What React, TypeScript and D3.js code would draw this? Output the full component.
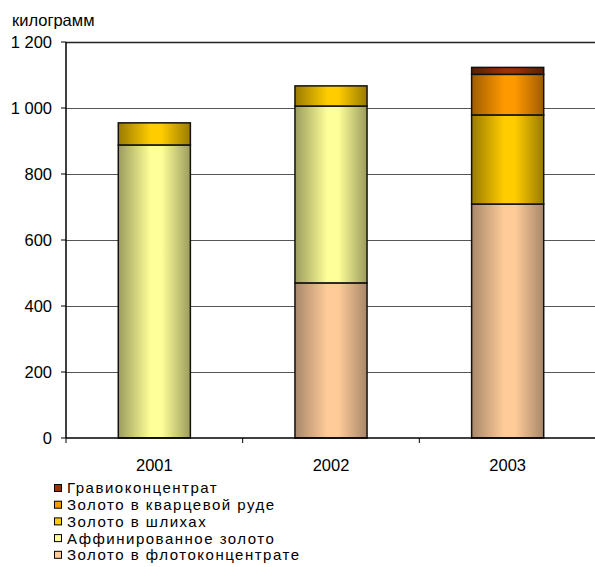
import * as d3 from "d3"

const years = ["2001", "2002", "2003"]
// series, bottom to top
const flotoconcentrate = [0, 470, 709]
const affined = [888, 536, 0]
const placer = [67, 61, 270]
const quartzOre = [0, 0, 123]
const gravioconcentrate = [0, 0, 21]

const seriesNames = [
  "Золото в флотоконцентрате",
  "Аффинированное золото",
  "Золото в шлихах",
  "Золото в кварцевой руде",
  "Гравиоконцентрат",
]
const seriesValues = [flotoconcentrate, affined, placer, quartzOre, gravioconcentrate]
// [light centre, dark edge]
const colors: [string, string][] = [
  ["#ffcc99", "#a8876a"],
  ["#ffff99", "#9c9c5e"],
  ["#ffcc00", "#9a7b00"],
  ["#ff9900", "#a05c00"],
  ["#993300", "#5c1f00"],
]
const yTicks = [0, 200, 400, 600, 800, 1000, 1200]

const width = 595
const height = 567
const margin = {top: 42, left: 66, right: 0, bottom: 129}
const font = "'Liberation Sans', Arial, sans-serif"

export default function App() {
  const rows = years.map((y, i) => {
    const row: any = {year: y}
    seriesNames.forEach((n, k) => (row[n] = seriesValues[k][i]))
    return row
  })
  const stacked = d3.stack().keys(seriesNames)(rows)

  const x = d3
    .scaleBand()
    .domain(years)
    .range([margin.left, 596])
    .paddingInner(0.592)
    .paddingOuter(0.296)
  const y = d3
    .scaleLinear()
    .domain([0, 1200])
    .range([height - margin.bottom, margin.top])
  const step = x.step()
  const x0 = margin.left
  const y0 = y(0)

  return (
    <svg
      width={width}
      height={height}
      style={{position: "absolute", left: 0, top: 0, background: "#fff"}}
      fontFamily={font}
    >
      <defs>
        {colors.map(([light, dark], k) => (
          <linearGradient key={k} id={`g${k}`} x1="0" x2="1" y1="0" y2="0">
            <stop offset="0%" stopColor={dark} />
            <stop offset="45%" stopColor={light} />
            <stop offset="60%" stopColor={light} />
            <stop offset="100%" stopColor={dark} />
          </linearGradient>
        ))}
      </defs>

      {/* gridlines */}
      {yTicks.slice(1).map((t) => (
        <line
          key={t}
          x1={x0}
          x2={width}
          y1={Math.round(y(t)) + 0.5}
          y2={Math.round(y(t)) + 0.5}
          stroke={t === 1200 ? "#222" : "#555"}
          strokeWidth={t === 1200 ? 1.5 : 1}
        />
      ))}

      {/* bars */}
      {stacked.map((s, k) => (
        <g key={s.key} fill={`url(#g${k})`} stroke="#111" strokeWidth={1.5}>
          {s
            .filter((d) => d[1] - d[0] > 0)
            .map((d) => (
              <rect
                key={d.data.year}
                x={x(d.data.year)}
                width={x.bandwidth()}
                y={y(d[1])}
                height={y(d[0]) - y(d[1])}
              />
            ))}
        </g>
      ))}

      {/* axes */}
      <line x1={x0} x2={x0} y1={margin.top} y2={y0} stroke="#000" strokeWidth={1.5} />
      <line x1={x0} x2={width} y1={y0} y2={y0} stroke="#000" strokeWidth={1.5} />
      {yTicks.map((t) => (
        <g key={t}>
          <line x1={x0 - 5} x2={x0} y1={y(t)} y2={y(t)} stroke="#000" />
          <text
            x={x0 - 14}
            y={y(t)}
            dy="0.36em"
            textAnchor="end"
            fontSize={16.5}
            fill="#000"
          >
            {d3.format(",")(t).replace(",", " ")}
          </text>
        </g>
      ))}
      {[0, 1, 2].map((i) => (
        <line
          key={i}
          x1={x0 + i * step}
          x2={x0 + i * step}
          y1={y0}
          y2={y0 + 5}
          stroke="#000"
        />
      ))}
      {years.map((yr) => (
        <text
          key={yr}
          x={(x(yr) ?? 0) + x.bandwidth() / 2}
          y={y0 + 33}
          textAnchor="middle"
          fontSize={16.5}
          fill="#000"
        >
          {yr}
        </text>
      ))}
      <text x={12} y={26} fontSize={16.5} fill="#000">
        килограмм
      </text>

      {/* legend, top to bottom */}
      {seriesNames
        .map((n, k) => ({n, k}))
        .reverse()
        .map(({n, k}, i) => (
          <g key={n} transform={`translate(54, ${488 + i * 16.7})`}>
            <rect x={0.5} y={-3.5} width={7} height={7} fill={colors[k][0]} stroke="#000" />
            <text
              x={13}
              y={0}
              dy="0.36em"
              fontSize={15}
              letterSpacing={1.5}
              fill="#000"
            >
              {n}
            </text>
          </g>
        ))}
    </svg>
  )
}
